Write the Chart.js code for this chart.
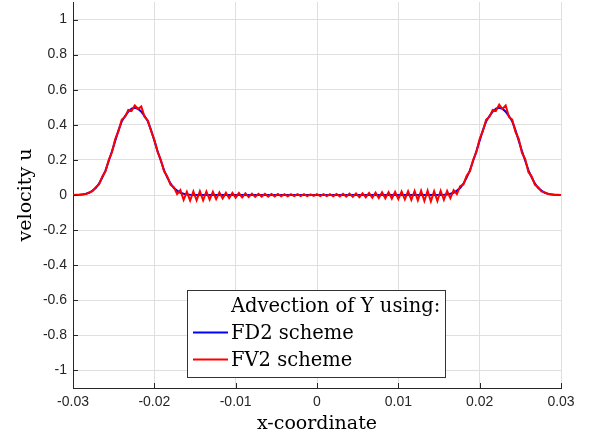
<!DOCTYPE html>
<html>
<head>
<meta charset="utf-8">
<script src="https://cdn.jsdelivr.net/npm/chart.js"></script>
<style>
  html, body { margin: 0; padding: 0; background: #fff; }
  #wrap { width: 589px; height: 436px; }
</style>
</head>
<body>
<div id="wrap"><canvas id="velChart" width="589" height="436"></canvas></div>
<script>
// x grid (x-coordinate)
const xGrid = [
  -0.0300,-0.0296,-0.0292,-0.0288,-0.0284,-0.0280,-0.0276,-0.0272,-0.0268,-0.0264,
  -0.0260,-0.0256,-0.0252,-0.0248,-0.0244,-0.0240,-0.0236,-0.0232,-0.0228,-0.0224,
  -0.0220,-0.0216,-0.0212,-0.0208,-0.0204,-0.0200,-0.0196,-0.0192,-0.0188,-0.0184,
  -0.0180,-0.0176,-0.0172,-0.0168,-0.0164,-0.0160,-0.0156,-0.0152,-0.0148,-0.0144,
  -0.0140,-0.0136,-0.0132,-0.0128,-0.0124,-0.0120,-0.0116,-0.0112,-0.0108,-0.0104,
  -0.0100,-0.0096,-0.0092,-0.0088,-0.0084,-0.0080,-0.0076,-0.0072,-0.0068,-0.0064,
  -0.0060,-0.0056,-0.0052,-0.0048,-0.0044,-0.0040,-0.0036,-0.0032,-0.0028,-0.0024,
  -0.0020,-0.0016,-0.0012,-0.0008,-0.0004, 0.0000, 0.0004, 0.0008, 0.0012, 0.0016,
   0.0020, 0.0024, 0.0028, 0.0032, 0.0036, 0.0040, 0.0044, 0.0048, 0.0052, 0.0056,
   0.0060, 0.0064, 0.0068, 0.0072, 0.0076, 0.0080, 0.0084, 0.0088, 0.0092, 0.0096,
   0.0100, 0.0104, 0.0108, 0.0112, 0.0116, 0.0120, 0.0124, 0.0128, 0.0132, 0.0136,
   0.0140, 0.0144, 0.0148, 0.0152, 0.0156, 0.0160, 0.0164, 0.0168, 0.0172, 0.0176,
   0.0180, 0.0184, 0.0188, 0.0192, 0.0196, 0.0200, 0.0204, 0.0208, 0.0212, 0.0216,
   0.0220, 0.0224, 0.0228, 0.0232, 0.0236, 0.0240, 0.0244, 0.0248, 0.0252, 0.0256,
   0.0260, 0.0264, 0.0268, 0.0272, 0.0276, 0.0280, 0.0284, 0.0288, 0.0292, 0.0296,
   0.0300
];

// FD2 scheme (blue)
const fd2 = [
  0, 0.0005, 0.001, 0.003, 0.007, 0.013, 0.025, 0.04, 0.065, 0.1,
  0.14, 0.195, 0.25, 0.31, 0.37, 0.42, 0.45, 0.475, 0.492, 0.497,
  0.492, 0.475, 0.45, 0.42, 0.37, 0.31, 0.25, 0.195, 0.14, 0.1,
  0.065, 0.04, 0.025, 0.013, 0.007, 0.003, 0.001, 0.0005, 0, 0,
  0, 0, 0, 0, 0, 0, 0, 0, 0, 0,
  0, 0, 0, 0, 0, 0, 0, 0, 0, 0,
  0, 0, 0, 0, 0, 0, 0, 0, 0, 0,
  0, 0, 0, 0, 0, 0, 0, 0, 0, 0,
  0, 0, 0, 0, 0, 0, 0, 0, 0, 0,
  0, 0, 0, 0, 0, 0, 0, 0, 0, 0,
  0, 0, 0, 0, 0, 0, 0, 0, 0, 0,
  0, 0, 0, 0.0005, 0.001, 0.003, 0.007, 0.013, 0.025, 0.04,
  0.065, 0.1, 0.14, 0.195, 0.25, 0.31, 0.37, 0.42, 0.45, 0.475,
  0.492, 0.497, 0.492, 0.475, 0.45, 0.42, 0.37, 0.31, 0.25, 0.195,
  0.14, 0.1, 0.065, 0.04, 0.025, 0.013, 0.007, 0.003, 0.001, 0.0005,
  0
];

// FV2 scheme (red)
const fv2 = [
  0, 0.001, 0.002, 0.004, 0.006, 0.015, 0.022, 0.045, 0.06, 0.105,
  0.135, 0.2, 0.245, 0.32, 0.365, 0.43, 0.445, 0.485, 0.48, 0.51,
  0.49, 0.505, 0.445, 0.425, 0.365, 0.315, 0.245, 0.2, 0.135, 0.105,
  0.058, 0.045, 0.005, 0.028, -0.028, 0.018, -0.032, 0.02, -0.03, 0.022,
  -0.03, 0.02, -0.026, 0.018, -0.024, 0.015, -0.02, 0.013, -0.018, 0.012,
  -0.015, 0.011, -0.014, 0.009, -0.012, 0.008, -0.011, 0.007, -0.009, 0.007,
  -0.009, 0.006, -0.008, 0.006, -0.007, 0.005, -0.007, 0.005, -0.006, 0.005,
  -0.006, 0.005, -0.006, 0.004, -0.005, 0.005, -0.006, 0.005, -0.006, 0.005,
  -0.007, 0.006, -0.008, 0.007, -0.009, 0.008, -0.01, 0.009, -0.012, 0.01,
  -0.013, 0.012, -0.015, 0.013, -0.017, 0.015, -0.019, 0.016, -0.021, 0.018,
  -0.023, 0.02, -0.025, 0.021, -0.028, 0.023, -0.031, 0.024, -0.034, 0.025,
  -0.036, 0.022, -0.034, 0.024, -0.028, 0.023, -0.018, 0.028, 0.005, 0.05,
  0.06, 0.11, 0.135, 0.2, 0.245, 0.32, 0.365, 0.43, 0.445, 0.485,
  0.48, 0.515, 0.49, 0.51, 0.445, 0.43, 0.36, 0.32, 0.24, 0.205,
  0.13, 0.105, 0.058, 0.045, 0.02, 0.015, 0.006, 0.004, 0.001, 0.001,
  0
];

const xTicks = [-0.03, -0.02, -0.01, 0, 0.01, 0.02, 0.03];
const xTickLabels = ['-0.03', '-0.02', '-0.01', '0', '0.01', '0.02', '0.03'];
const yTicks = [-1, -0.8, -0.6, -0.4, -0.2, 0, 0.2, 0.4, 0.6, 0.8, 1];
const yTickLabels = ['-1', '-0.8', '-0.6', '-0.4', '-0.2', '0', '0.2', '0.4', '0.6', '0.8', '1'];

const legendTitle = 'Advection of Y using:';
const seriesNames = ['FD2 scheme', 'FV2 scheme'];

const toPoints = (ys) => xGrid.map((x, i) => ({ x: x, y: ys[i] }));

const tickFont = { family: '"Liberation Sans", Arial, sans-serif', size: 14 };
const serifFont = '"DejaVu Serif", serif';

// inward tick marks, like the original
const innerTicks = {
  id: 'innerTicks',
  afterDatasetsDraw(chart) {
    const { ctx, chartArea: a, scales } = chart;
    ctx.save();
    ctx.strokeStyle = '#262626';
    ctx.lineWidth = 1;
    ctx.beginPath();
    xTicks.forEach(v => {
      const px = Math.round(scales.x.getPixelForValue(v)) + 0.5;
      ctx.moveTo(px, a.bottom);
      ctx.lineTo(px, a.bottom - 5);
    });
    yTicks.forEach(v => {
      const py = Math.round(scales.y.getPixelForValue(v)) + 0.5;
      ctx.moveTo(a.left, py);
      ctx.lineTo(a.left + 5, py);
    });
    ctx.stroke();
    ctx.restore();
  }
};

// boxed legend inside the plot
const boxLegend = {
  id: 'boxLegend',
  afterDraw(chart) {
    const { ctx, chartArea: a } = chart;
    const bx = a.left + 114, by = a.top + 288, bw = 258, bh = 87;
    ctx.save();
    ctx.fillStyle = '#fff';
    ctx.fillRect(bx, by, bw, bh);
    ctx.strokeStyle = '#333';
    ctx.lineWidth = 1;
    ctx.strokeRect(bx + 0.5, by + 0.5, bw, bh);
    ctx.font = '19.5px ' + serifFont;
    ctx.fillStyle = '#000';
    ctx.textBaseline = 'alphabetic';
    const tx = bx + 44;
    ctx.fillText(legendTitle, tx, by + 22);
    chart.data.datasets.forEach((ds, i) => {
      const base = by + 49 + i * 27;
      ctx.strokeStyle = ds.borderColor;
      ctx.lineWidth = 2;
      ctx.beginPath();
      ctx.moveTo(bx + 6, base - 6.5);
      ctx.lineTo(bx + 41, base - 6.5);
      ctx.stroke();
      ctx.fillText(seriesNames[i], tx, base);
    });
    ctx.restore();
  }
};

new Chart(document.getElementById('velChart'), {
  type: 'line',
  data: {
    datasets: [
      { label: seriesNames[0], data: toPoints(fd2), borderColor: '#0000ff', borderWidth: 2, pointRadius: 0, tension: 0, order: 1 },
      { label: seriesNames[1], data: toPoints(fv2), borderColor: '#ff0000', borderWidth: 2, pointRadius: 0, tension: 0, order: 0 }
    ]
  },
  options: {
    responsive: false,
    animation: false,
    devicePixelRatio: 1,
    layout: { padding: { top: 2, right: 28, left: 0, bottom: 0 } },
    plugins: { legend: { display: false }, tooltip: { enabled: false } },
    scales: {
      x: {
        type: 'linear',
        min: -0.03,
        max: 0.03,
        afterBuildTicks: (s) => { s.ticks = xTicks.map(v => ({ value: v })); },
        afterFit: (s) => { s.height = 48; s.paddingLeft = 0; s.paddingRight = 0; },
        ticks: {
          autoSkip: false, maxRotation: 0, padding: 6,
          color: '#262626', font: tickFont,
          callback: (v, i) => xTickLabels[i]
        },
        grid: { color: '#dfdfdf', drawTicks: false },
        border: { color: '#262626', width: 1 },
        title: {
          display: true, text: 'x-coordinate', color: '#000',
          font: { family: serifFont, size: 19 },
          padding: { top: 0, bottom: 1 }
        }
      },
      y: {
        type: 'linear',
        min: -1.1,
        max: 1.1,
        afterBuildTicks: (s) => { s.ticks = yTicks.map(v => ({ value: v })); },
        afterFit: (s) => { s.width = 73; s.paddingTop = 0; s.paddingBottom = 0; },
        ticks: {
          autoSkip: false, padding: 6,
          color: '#262626', font: tickFont,
          callback: (v, i) => yTickLabels[i]
        },
        grid: { color: '#dfdfdf', drawTicks: false },
        border: { color: '#262626', width: 1 },
        title: {
          display: true, text: 'velocity u', color: '#000',
          font: { family: serifFont, size: 19 },
          padding: { top: 15, bottom: 0 }
        }
      }
    }
  },
  plugins: [innerTicks, boxLegend]
});
</script>
</body>
</html>
